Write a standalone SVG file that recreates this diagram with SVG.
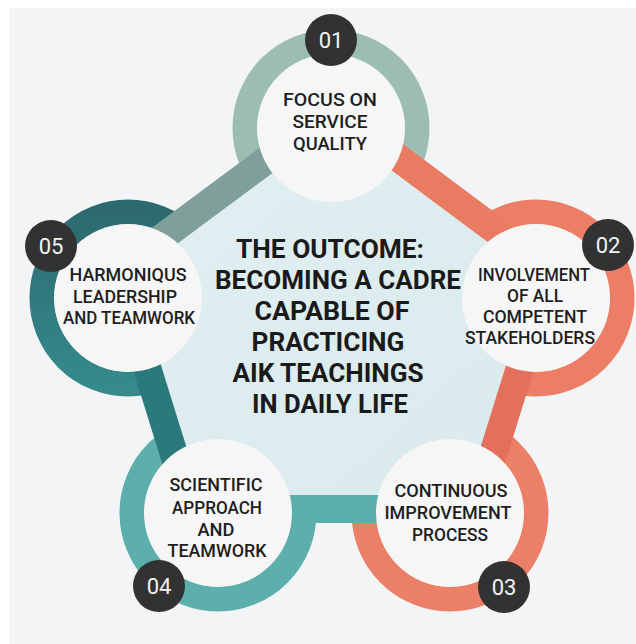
<svg xmlns="http://www.w3.org/2000/svg" width="636" height="644" viewBox="0 0 636 644">
  <defs>
    <linearGradient id="gFill" x1="0" y1="0" x2="1" y2="1">
      <stop offset="0" stop-color="#e1eff1"/>
      <stop offset="1" stop-color="#d9eaed"/>
    </linearGradient>
    <linearGradient id="g05" x1="0" y1="0" x2="0" y2="1">
      <stop offset="0" stop-color="#2c6a6f"/>
      <stop offset="1" stop-color="#358a8c"/>
    </linearGradient>
    <style>
      .ring { fill: none; stroke-width: 25; }
      .band { fill: none; stroke-width: 28; stroke-linecap: butt; }
      .disc { fill: #f6f6f6; }
      .badge { fill: #323232; }
      .num { font-family: Roboto, "Liberation Sans", sans-serif; font-size: 22px; fill: #f2f2f2; text-anchor: middle; }
      .lbl { font-family: Roboto, "Liberation Sans", sans-serif; font-size: 19px; font-weight: 500; fill: #1e1e1e; text-anchor: middle; }
      .ctr { font-family: Roboto, "Liberation Sans", sans-serif; font-size: 26px; font-weight: 700; fill: #1a1a1a; text-anchor: middle; }
    </style>
  </defs>

  <rect x="0" y="0" width="636" height="644" fill="#ffffff"/>
  <rect x="9" y="8" width="627" height="636" fill="#f3f4f5"/>

  <!-- rings (outer parts remain visible) -->
  <g id="rings">
    <circle class="ring" cx="331" cy="128" r="86" stroke="#9cbdb4"/>
    <circle class="ring" cx="536" cy="298" r="86" stroke="#ec7e66"/>
    <circle class="ring" cx="450" cy="513" r="86" stroke="#ec7f68"/>
    <circle class="ring" cx="218" cy="513" r="86" stroke="#5cafaa"/>
    <circle class="ring" cx="128" cy="298" r="86" stroke="url(#g05)"/>
  </g>

  <!-- central pentagon -->
  <polygon id="center-fill" points="334,110 550,271 476,509 191,509 117,271" fill="url(#gFill)"/>

  <g id="connectors">
    <line class="band" x1="334" y1="110" x2="550" y2="271" stroke="#e97b63"/>
    <line class="band" x1="550" y1="271" x2="476" y2="509" stroke="#e2705c"/>
    <line class="band" x1="476" y1="509" x2="191" y2="509" stroke="#5bafaa"/>
    <line class="band" x1="191" y1="509" x2="117" y2="271" stroke="#2a7a7b"/>
    <line class="band" x1="117" y1="271" x2="334" y2="110" stroke="#7f9f99"/>
  </g>

  <g id="center">
    <text class="ctr" x="330" y="258" textLength="188" lengthAdjust="spacingAndGlyphs">THE OUTCOME:</text>
    <text class="ctr" x="338" y="289" textLength="246" lengthAdjust="spacingAndGlyphs">BECOMING A CADRE</text>
    <text class="ctr" x="332" y="320" textLength="155" lengthAdjust="spacingAndGlyphs">CAPABLE OF</text>
    <text class="ctr" x="328" y="351" textLength="153" lengthAdjust="spacingAndGlyphs">PRACTICING</text>
    <text class="ctr" x="328" y="382" textLength="191" lengthAdjust="spacingAndGlyphs">AIK TEACHINGS</text>
    <text class="ctr" x="330" y="413" textLength="156" lengthAdjust="spacingAndGlyphs">IN DAILY LIFE</text>
  </g>

  <g id="node01">
    <circle class="disc" cx="331" cy="128" r="74"/>
    <text class="lbl" x="330" y="106" textLength="94" lengthAdjust="spacingAndGlyphs">FOCUS ON</text>
    <text class="lbl" x="330" y="128" textLength="75" lengthAdjust="spacingAndGlyphs">SERVICE</text>
    <text class="lbl" x="330" y="150" textLength="74" lengthAdjust="spacingAndGlyphs">QUALITY</text>
    <circle class="badge" cx="331" cy="40" r="26"/>
    <text class="num" x="331" y="48">01</text>
  </g>

  <g id="node02">
    <circle class="disc" cx="536" cy="298" r="74"/>
    <text class="lbl" x="534" y="281" textLength="112" lengthAdjust="spacingAndGlyphs">INVOLVEMENT</text>
    <text class="lbl" x="535" y="302" textLength="56" lengthAdjust="spacingAndGlyphs">OF ALL</text>
    <text class="lbl" x="535" y="323" textLength="104" lengthAdjust="spacingAndGlyphs">COMPETENT</text>
    <text class="lbl" x="530" y="344" textLength="130" lengthAdjust="spacingAndGlyphs">STAKEHOLDERS</text>
    <circle class="badge" cx="608" cy="245" r="26"/>
    <text class="num" x="608" y="253">02</text>
  </g>

  <g id="node03">
    <circle class="disc" cx="450" cy="513" r="74"/>
    <text class="lbl" x="451" y="497" textLength="113" lengthAdjust="spacingAndGlyphs">CONTINUOUS</text>
    <text class="lbl" x="448" y="519" textLength="127" lengthAdjust="spacingAndGlyphs">IMPROVEMENT</text>
    <text class="lbl" x="450" y="541" textLength="76" lengthAdjust="spacingAndGlyphs">PROCESS</text>
    <circle class="badge" cx="504" cy="587" r="26"/>
    <text class="num" x="504" y="595">03</text>
  </g>

  <g id="node04">
    <circle class="disc" cx="218" cy="513" r="74"/>
    <text class="lbl" x="216" y="491" textLength="93" lengthAdjust="spacingAndGlyphs">SCIENTIFIC</text>
    <text class="lbl" x="217" y="514" textLength="90" lengthAdjust="spacingAndGlyphs">APPROACH</text>
    <text class="lbl" x="216" y="536" textLength="37" lengthAdjust="spacingAndGlyphs">AND</text>
    <text class="lbl" x="217" y="557" textLength="99" lengthAdjust="spacingAndGlyphs">TEAMWORK</text>
    <circle class="badge" cx="159" cy="586" r="26"/>
    <text class="num" x="159" y="594">04</text>
  </g>

  <g id="node05">
    <circle class="disc" cx="128" cy="298" r="74"/>
    <text class="lbl" x="128" y="281" textLength="117" lengthAdjust="spacingAndGlyphs">HARMONIQUS</text>
    <text class="lbl" x="125" y="303" textLength="104" lengthAdjust="spacingAndGlyphs">LEADERSHIP</text>
    <text class="lbl" x="129" y="324" textLength="132" lengthAdjust="spacingAndGlyphs">AND TEAMWORK</text>
    <circle class="badge" cx="51" cy="246" r="26"/>
    <text class="num" x="51" y="254">05</text>
  </g>
</svg>
